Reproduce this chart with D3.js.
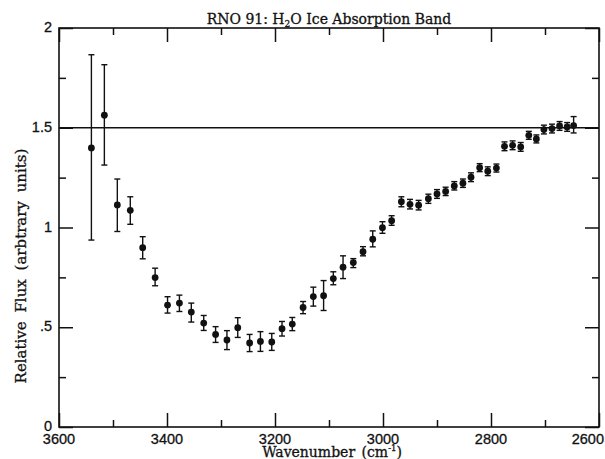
<!DOCTYPE html>
<html><head><meta charset="utf-8">
<script src="https://cdn.jsdelivr.net/npm/d3@7"></script>
<style>body{margin:0;background:#fff}svg{display:block}</style>
</head><body>
<svg id="c" width="605" height="459"></svg>
<script>
const wavenumber = [3540,3516,3492,3468,3445,3422,3399,3377,3355,3332,3310,3289,3269,3247,3227,3206,3187,3168,3148,3129,3110,3092,3074,3055,3037,3019,3001,2984,2966,2950,2934,2916,2900,2884,2868,2852,2837,2821,2806,2790,2775,2760,2745,2730,2716,2702,2687,2673,2659,2647];
const flux = [1.399,1.563,1.113,1.086,0.899,0.749,0.611,0.621,0.576,0.521,0.464,0.436,0.498,0.421,0.429,0.426,0.493,0.516,0.599,0.654,0.658,0.744,0.801,0.824,0.879,0.941,0.999,1.034,1.129,1.116,1.112,1.144,1.168,1.181,1.208,1.222,1.252,1.300,1.282,1.298,1.407,1.412,1.404,1.462,1.444,1.491,1.496,1.509,1.504,1.511];
const errLow = [0.937,1.313,0.980,1.016,0.843,0.708,0.571,0.579,0.526,0.484,0.424,0.388,0.449,0.378,0.379,0.384,0.456,0.483,0.568,0.606,0.584,0.713,0.744,0.799,0.858,0.903,0.971,1.011,1.104,1.093,1.088,1.121,1.146,1.160,1.188,1.201,1.230,1.280,1.260,1.278,1.385,1.390,1.382,1.442,1.424,1.469,1.474,1.487,1.482,1.474];
const errHigh = [1.866,1.816,1.243,1.154,0.954,0.796,0.653,0.661,0.621,0.559,0.503,0.483,0.548,0.464,0.478,0.469,0.529,0.549,0.629,0.701,0.734,0.778,0.858,0.844,0.904,0.983,1.029,1.059,1.154,1.141,1.136,1.167,1.190,1.202,1.230,1.243,1.274,1.320,1.304,1.318,1.429,1.434,1.426,1.482,1.464,1.513,1.518,1.531,1.526,1.556];
const referenceLevel = 1.5;
const xMajorTicks = [3600,3400,3200,3000,2800,2600];
const xMinorTicks = [3500,3300,3100,2900,2700];
const yMajorTicks = [0,0.5,1,1.5,2];
const yMinorTicks = [0.25,0.75,1.25,1.75];
const yTickLabels = ["0",".5","1","1.5","2"];

const svg = d3.select("#c");
const L = 59, R = 599, T = 28, B = 427;
const x = d3.scaleLinear().domain([3600,2600]).range([L,R]);
const y = d3.scaleLinear().domain([0,2]).range([B,T]);
const ink = "#111";

// frame
svg.append("rect").attr("x",L).attr("y",T).attr("width",R-L).attr("height",B-T)
  .attr("fill","none").attr("stroke",ink).attr("stroke-width",1.6);

// ticks using d3 axes (inward)
const MAJ = 14, MIN = 7;
function tickAxis(gen, scale, vals, size, tx, ty){
  const g = svg.append("g").attr("transform",`translate(${tx},${ty})`)
    .call(gen(scale).tickValues(vals).tickSize(size).tickFormat(""));
  g.select(".domain").remove();
  g.selectAll("line").attr("stroke",ink).attr("stroke-width",1.5);
}
tickAxis(d3.axisTop, x, xMajorTicks, MAJ, 0, B);
tickAxis(d3.axisTop, x, xMinorTicks, MIN, 0, B);
tickAxis(d3.axisBottom, x, xMajorTicks, MAJ, 0, T);
tickAxis(d3.axisBottom, x, xMinorTicks, MIN, 0, T);
tickAxis(d3.axisRight, y, yMajorTicks, MAJ, L, 0);
tickAxis(d3.axisRight, y, yMinorTicks, MIN, L, 0);
tickAxis(d3.axisLeft, y, yMajorTicks, MAJ, R, 0);
tickAxis(d3.axisLeft, y, yMinorTicks, MIN, R, 0);

// tick labels
const tickFont = "'Liberation Sans', Arial, sans-serif";
svg.append("g").selectAll("text").data(xMajorTicks).join("text")
  .attr("x",(d,i)=> i===xMajorTicks.length-1 ? 604 : x(d))
  .attr("y",444)
  .attr("text-anchor",(d,i)=> i===xMajorTicks.length-1 ? "end" : "middle")
  .attr("font-family",tickFont).attr("font-size",14.5).attr("fill",ink)
  .attr("stroke",ink).attr("stroke-width",0.3)
  .text(d=>d);
svg.append("g").selectAll("text").data(yMajorTicks).join("text")
  .attr("x",52).attr("y",d=>y(d)+4)
  .attr("text-anchor","end")
  .attr("font-family",tickFont).attr("font-size",14.5).attr("fill",ink)
  .attr("stroke",ink).attr("stroke-width",0.3)
  .text((d,i)=>yTickLabels[i]);

// reference line
svg.append("line").attr("x1",L).attr("x2",R).attr("y1",y(referenceLevel)).attr("y2",y(referenceLevel))
  .attr("stroke",ink).attr("stroke-width",1.6);

// error bars
const data = wavenumber.map((w,i)=>({w, f:flux[i], lo:errLow[i], hi:errHigh[i]}));
const eb = svg.append("g").attr("stroke",ink).attr("stroke-width",1.4);
eb.selectAll("line.v").data(data).join("line").attr("class","v")
  .attr("x1",d=>x(d.w)).attr("x2",d=>x(d.w)).attr("y1",d=>y(d.lo)).attr("y2",d=>y(d.hi));
eb.selectAll("line.t").data(data).join("line").attr("class","t")
  .attr("x1",d=>x(d.w)-3).attr("x2",d=>x(d.w)+3).attr("y1",d=>y(d.hi)).attr("y2",d=>y(d.hi));
eb.selectAll("line.b").data(data).join("line").attr("class","b")
  .attr("x1",d=>x(d.w)-3).attr("x2",d=>x(d.w)+3).attr("y1",d=>y(d.lo)).attr("y2",d=>y(d.lo));
svg.append("g").selectAll("circle").data(data).join("circle")
  .attr("cx",d=>x(d.w)).attr("cy",d=>y(d.f)).attr("r",3.4).attr("fill",ink);

// title and axis labels
const serif = "'DejaVu Serif', 'Liberation Serif', serif";
const title = svg.append("text").attr("x",(L+R)/2).attr("y",24).attr("text-anchor","middle")
  .attr("font-family",serif).attr("font-size",14).attr("fill",ink)
  .attr("stroke",ink).attr("stroke-width",0.3);
title.append("tspan").text("RNO 91: H");
title.append("tspan").attr("font-size",9).attr("dy",3).text("2");
title.append("tspan").attr("dy",-3).text("O Ice Absorption Band");

const xl = svg.append("text").attr("x",332).attr("y",457).attr("text-anchor","middle")
  .attr("font-family",serif).attr("font-size",14).attr("fill",ink)
  .attr("word-spacing",2)
  .attr("stroke",ink).attr("stroke-width",0.3);
xl.append("tspan").text("Wavenumber (cm");
xl.append("tspan").attr("font-size",8.5).attr("dy",-6).text("-1");
xl.append("tspan").attr("dy",6).text(")");

svg.append("text").attr("transform","translate(26,266) rotate(-90)").attr("text-anchor","middle")
  .attr("font-family",serif).attr("font-size",15).attr("fill",ink)
  .attr("word-spacing",4)
  .attr("stroke",ink).attr("stroke-width",0.3)
  .text("Relative Flux (arbtrary units)");
</script>
</body></html>
